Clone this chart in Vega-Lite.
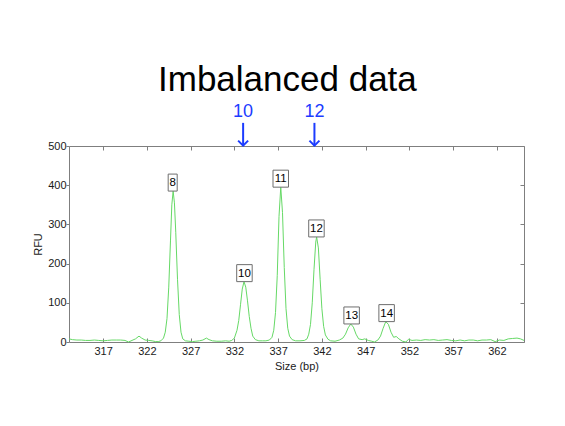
{
  "$schema": "https://vega.github.io/schema/vega-lite/v6.json",
  "width": 455,
  "height": 196,
  "autosize": {"type": "none"},
  "padding": {"left": 69, "top": 146, "right": 41, "bottom": 84},
  "background": "white",
  "title": {"text": "Imbalanced data", "fontSize": 35, "font": "Liberation Sans", "fontWeight": "normal", "color": "#000000", "anchor": "start", "frame": "group", "dx": 89, "baseline": "alphabetic", "offset": -23},
  "config": {
    "view": {"stroke": "#7f7f7f", "strokeWidth": 1},
    "font": "Liberation Sans",
    "axis": {"labelFont": "Liberation Sans", "labelFontSize": 11, "labelColor": "#1a1a1a", "titleFont": "Liberation Sans", "titleFontSize": 11, "titleFontWeight": "normal", "titleColor": "#1a1a1a", "tickColor": "#7f7f7f", "domain": false, "grid": false}
  },
  "datasets": {
    "curve": [
      {"size": 313.1, "rfu": 8}, {"size": 313.5, "rfu": 6}, {"size": 314.0, "rfu": 5}, {"size": 314.5, "rfu": 5},
      {"size": 315.0, "rfu": 4}, {"size": 315.5, "rfu": 4}, {"size": 316.0, "rfu": 5}, {"size": 316.5, "rfu": 4},
      {"size": 317.0, "rfu": 3}, {"size": 317.5, "rfu": 4}, {"size": 318.0, "rfu": 5}, {"size": 318.5, "rfu": 5},
      {"size": 319.0, "rfu": 5}, {"size": 319.5, "rfu": 4}, {"size": 319.9, "rfu": 0}, {"size": 320.3, "rfu": 4},
      {"size": 320.7, "rfu": 8}, {"size": 321.1, "rfu": 15}, {"size": 321.4, "rfu": 10}, {"size": 321.8, "rfu": 5},
      {"size": 322.2, "rfu": 4}, {"size": 322.6, "rfu": 3}, {"size": 323.0, "rfu": 1}, {"size": 323.3, "rfu": 1},
      {"size": 323.6, "rfu": 3}, {"size": 323.9, "rfu": 10}, {"size": 324.1, "rfu": 25}, {"size": 324.3, "rfu": 60},
      {"size": 324.5, "rfu": 140}, {"size": 324.7, "rfu": 260}, {"size": 324.85, "rfu": 350}, {"size": 325.0, "rfu": 385},
      {"size": 325.15, "rfu": 355}, {"size": 325.3, "rfu": 280}, {"size": 325.5, "rfu": 160}, {"size": 325.7, "rfu": 70},
      {"size": 325.9, "rfu": 25}, {"size": 326.1, "rfu": 8}, {"size": 326.4, "rfu": 3}, {"size": 326.8, "rfu": 2},
      {"size": 327.2, "rfu": 1}, {"size": 327.6, "rfu": 2}, {"size": 328.0, "rfu": 3}, {"size": 328.4, "rfu": 5},
      {"size": 328.8, "rfu": 10}, {"size": 329.1, "rfu": 6}, {"size": 329.5, "rfu": 3}, {"size": 330.0, "rfu": 2},
      {"size": 330.5, "rfu": 2}, {"size": 331.0, "rfu": 3}, {"size": 331.4, "rfu": 2}, {"size": 331.7, "rfu": 4},
      {"size": 332.0, "rfu": 10}, {"size": 332.3, "rfu": 30}, {"size": 332.5, "rfu": 55}, {"size": 332.7, "rfu": 95},
      {"size": 332.9, "rfu": 135}, {"size": 333.1, "rfu": 154}, {"size": 333.3, "rfu": 140}, {"size": 333.5, "rfu": 105},
      {"size": 333.7, "rfu": 65}, {"size": 333.9, "rfu": 35}, {"size": 334.1, "rfu": 15}, {"size": 334.4, "rfu": 6},
      {"size": 334.8, "rfu": 3}, {"size": 335.2, "rfu": 3}, {"size": 335.6, "rfu": 3}, {"size": 336.0, "rfu": 5},
      {"size": 336.3, "rfu": 12}, {"size": 336.5, "rfu": 30}, {"size": 336.7, "rfu": 75}, {"size": 336.9, "rfu": 170},
      {"size": 337.1, "rfu": 320}, {"size": 337.3, "rfu": 395}, {"size": 337.5, "rfu": 330}, {"size": 337.7, "rfu": 190},
      {"size": 337.9, "rfu": 85}, {"size": 338.1, "rfu": 35}, {"size": 338.3, "rfu": 15}, {"size": 338.6, "rfu": 6},
      {"size": 339.0, "rfu": 3}, {"size": 339.5, "rfu": 3}, {"size": 340.0, "rfu": 4}, {"size": 340.3, "rfu": 8},
      {"size": 340.5, "rfu": 20}, {"size": 340.7, "rfu": 45}, {"size": 340.9, "rfu": 100}, {"size": 341.1, "rfu": 185},
      {"size": 341.3, "rfu": 255}, {"size": 341.4, "rfu": 268}, {"size": 341.6, "rfu": 240}, {"size": 341.8, "rfu": 160},
      {"size": 342.0, "rfu": 85}, {"size": 342.2, "rfu": 40}, {"size": 342.4, "rfu": 18}, {"size": 342.7, "rfu": 7},
      {"size": 343.0, "rfu": 3}, {"size": 343.5, "rfu": 2}, {"size": 344.0, "rfu": 5}, {"size": 344.4, "rfu": 10},
      {"size": 344.7, "rfu": 20}, {"size": 345.0, "rfu": 36}, {"size": 345.3, "rfu": 46}, {"size": 345.6, "rfu": 38},
      {"size": 345.9, "rfu": 20}, {"size": 346.2, "rfu": 8}, {"size": 346.6, "rfu": 6}, {"size": 346.9, "rfu": 8},
      {"size": 347.3, "rfu": 4}, {"size": 347.7, "rfu": 2}, {"size": 348.0, "rfu": 0}, {"size": 348.4, "rfu": 5},
      {"size": 348.7, "rfu": 15}, {"size": 349.0, "rfu": 35}, {"size": 349.3, "rfu": 52}, {"size": 349.6, "rfu": 45},
      {"size": 349.9, "rfu": 25}, {"size": 350.2, "rfu": 12}, {"size": 350.5, "rfu": 14}, {"size": 350.8, "rfu": 8},
      {"size": 351.2, "rfu": 2}, {"size": 351.6, "rfu": 0}, {"size": 351.9, "rfu": 7}, {"size": 352.3, "rfu": 4},
      {"size": 352.8, "rfu": 5}, {"size": 353.3, "rfu": 4}, {"size": 353.8, "rfu": 6}, {"size": 354.3, "rfu": 5},
      {"size": 354.8, "rfu": 6}, {"size": 355.3, "rfu": 4}, {"size": 355.8, "rfu": 5}, {"size": 356.3, "rfu": 6},
      {"size": 356.8, "rfu": 4}, {"size": 357.3, "rfu": 3}, {"size": 357.8, "rfu": 5}, {"size": 358.3, "rfu": 3},
      {"size": 358.8, "rfu": 5}, {"size": 359.3, "rfu": 5}, {"size": 359.8, "rfu": 3}, {"size": 360.3, "rfu": 5},
      {"size": 360.8, "rfu": 5}, {"size": 361.3, "rfu": 6}, {"size": 361.8, "rfu": 1}, {"size": 362.3, "rfu": 5},
      {"size": 362.8, "rfu": 4}, {"size": 363.3, "rfu": 8}, {"size": 363.8, "rfu": 9}, {"size": 364.3, "rfu": 10},
      {"size": 364.7, "rfu": 8}, {"size": 365.1, "rfu": 4}
    ],
    "peaks": [
      {"allele": "8", "size": 324.95, "rfu": 385},
      {"allele": "10", "size": 333.15, "rfu": 154},
      {"allele": "11", "size": 337.3, "rfu": 395},
      {"allele": "12", "size": 341.38, "rfu": 268},
      {"allele": "13", "size": 345.4, "rfu": 46},
      {"allele": "14", "size": 349.4, "rfu": 52}
    ],
    "arrows": [
      {"allele": "10", "size": 333.0},
      {"allele": "12", "size": 341.15}
    ]
  },
  "layer": [
    {
      "data": {"name": "curve"},
      "mark": {"type": "line", "color": "#66d966", "strokeWidth": 1},
      "encoding": {
        "x": {"field": "size", "type": "quantitative",
          "scale": {"domain": [313.1, 365.1], "nice": false, "zero": false},
          "axis": {"orient": "bottom", "values": [317, 322, 327, 332, 337, 342, 347, 352, 357, 362], "format": "d", "tickSize": -4, "labelPadding": 7, "title": "Size (bp)", "titlePadding": 4}},
        "y": {"field": "rfu", "type": "quantitative",
          "scale": {"domain": [0, 500], "nice": false},
          "axis": {"orient": "left", "values": [0, 100, 200, 300, 400, 500], "tickSize": 3, "labelPadding": 0, "title": "RFU", "titlePadding": 4}}
      }
    },
    {
      "data": {"name": "peaks"},
      "mark": {"type": "point", "filled": true, "fill": "white", "stroke": "#6e6e6e", "strokeWidth": 1, "opacity": 1, "fillOpacity": 1, "size": 289, "yOffset": -8.5},
      "encoding": {
        "x": {"field": "size", "type": "quantitative",
          "axis": {"orient": "top", "values": [317, 322, 327, 332, 337, 342, 347, 352, 357, 362], "labels": false, "tickSize": -4, "title": null}},
        "y": {"field": "rfu", "type": "quantitative",
          "axis": {"orient": "right", "values": [0, 100, 200, 300, 400, 500], "labels": false, "tickSize": -4, "title": null}},
        "shape": {"condition": {"test": "length(datum.allele) > 1", "value": "M-0.91,-1H0.91V1H-0.91Z"}, "value": "M-0.53,-1H0.53V1H-0.53Z"}
      }
    },
    {
      "data": {"name": "peaks"},
      "mark": {"type": "text", "fontSize": 11.5, "font": "Liberation Sans", "color": "#000000", "baseline": "middle", "align": "center", "yOffset": -8},
      "encoding": {
        "x": {"field": "size", "type": "quantitative", "axis": null},
        "y": {"field": "rfu", "type": "quantitative", "axis": null},
        "text": {"field": "allele"}
      }
    },
    {
      "data": {"name": "arrows"},
      "mark": {"type": "rule", "color": "#1c3cff", "strokeWidth": 2},
      "encoding": {
        "x": {"field": "size", "type": "quantitative", "axis": null},
        "y": {"datum": 559, "type": "quantitative", "axis": null},
        "y2": {"datum": 501}
      }
    },
    {
      "data": {"name": "arrows"},
      "mark": {"type": "point", "shape": "M-1,-1L0,0L1,-1", "filled": false, "stroke": "#1c3cff", "strokeWidth": 2, "opacity": 1, "size": 100},
      "encoding": {
        "x": {"field": "size", "type": "quantitative", "axis": null},
        "y": {"datum": 501, "type": "quantitative", "axis": null}
      }
    },
    {
      "data": {"name": "arrows"},
      "mark": {"type": "text", "fontSize": 18, "font": "Liberation Sans", "color": "#1c3cff", "baseline": "alphabetic", "align": "center"},
      "encoding": {
        "x": {"field": "size", "type": "quantitative", "axis": null},
        "y": {"datum": 574, "type": "quantitative", "axis": null},
        "text": {"field": "allele"}
      }
    }
  ]
}
